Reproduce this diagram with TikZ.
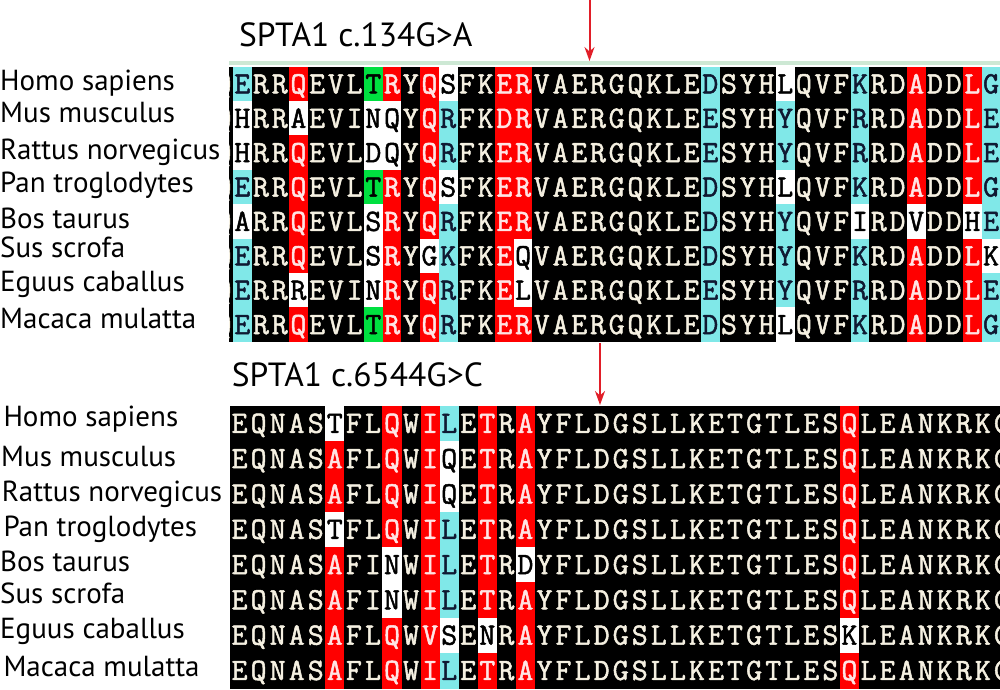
\documentclass[tikz,border=0pt]{standalone}
\usepackage{fontspec}
\setmainfont{PT Sans}
\newfontfamily\seqfont[FakeBold=1.6]{Latin Modern Mono}
\usetikzlibrary{arrows.meta}
\definecolor{alnRed}{RGB}{255,0,0}
\definecolor{alnCyan}{RGB}{128,232,232}
\definecolor{alnGreen}{RGB}{0,224,64}
\definecolor{alnInk}{RGB}{245,240,225}
\definecolor{alnPink}{RGB}{255,228,228}
\definecolor{alnNavy}{RGB}{15,25,50}
\definecolor{alnBar}{RGB}{205,232,212}
\definecolor{mutArrow}{RGB}{225,30,40}
\tikzset{
    cellk/.style={fill=black},
    cellr/.style={fill=alnRed},
    cellc/.style={fill=alnCyan},
    cellg/.style={fill=alnGreen},
    cellw/.style={fill=white},
    res/.style={
        font=\seqfont\fontsize{31}{31}\selectfont,
        inner sep=0pt,
        anchor=base
    },
    resk/.style={text=alnInk},
    resr/.style={text=alnPink},
    resc/.style={text=alnNavy},
    resg/.style={text=black},
    resw/.style={text=black},
    species/.style={
        font=\fontsize{29}{31}\selectfont,
        inner sep=0pt,
        anchor=base west
    },
    title/.style={
        font=\fontsize{33.5}{35}\selectfont,
        inner sep=0pt,
        anchor=base west
    },
    mutation/.style={
        -{Stealth[length=14pt,width=10pt]},
        line width=2pt,
        color=mutArrow
    }
}
% one alignment row: residues and colour codes, read letter by letter
\newcount\alncol
\def\alngobble#1{}
\def\alnfirst#1{#1}
\def\alnrow#1#2{\alncol=0 \alnstep#1\relax#2\relax}
\def\alnstep#1#2\relax#3#4\relax{%
  \alncell{#1}{#3}%
  \advance\alncol by 1
  \ifx\relax#2\relax\expandafter\alngobble\else\expandafter\alnfirst\fi
  {\alnstep#2\relax#4\relax}}
\def\alncell#1#2{%
  \fill[cell#2] ({\alnxo+\the\alncol*\alnw},\alnyt) rectangle ++({\alnw+0.4},{\alnh+0.4});
  \node[res,res#2] (\alnname\the\alncol) at ({\alnxo+(\the\alncol+0.5)*\alnw},{\alnyt+0.5*\alnh+9.5}) {#1};}

\begin{document}
\begin{tikzpicture}[x=1pt,y=-1pt]
  \useasboundingbox (0,0) rectangle (1000,689);

  % Titles
  \node[title] (titleA) at (239,46) {SPTA1 c.134G>A};
  \node[title] (titleB) at (231.7,386.7) {SPTA1 c.6544G>C};

  % Species names
  \foreach \sp/\bl [count=\i] in {Homo sapiens/90, Mus musculus/122.7,
      Rattus norvegicus/159.3, Pan troglodytes/192.7, Bos taurus/228.3,
      Sus scrofa/257.7, Eguus caballus/291, Macaca mulatta/328.3}
    \node[species] (spA\i) at (0,\bl) {\sp};
  \foreach \sx/\sp/\bl [count=\i] in {3.3/Homo sapiens/426.7, 1/Mus musculus/466.7,
      1.7/Rattus norvegicus/501.7, 3.3/Pan troglodytes/536.7, 0/Bos taurus/571.7,
      0/Sus scrofa/603.3, 0/Eguus caballus/638.3, 3.3/Macaca mulatta/676.7}
    \node[species] (spB\i) at (\sx,\bl) {\sp};

  % Upper alignment
  \fill[alnBar] (229,60.5) rectangle (1000,64.5);
  \begin{scope}
    \clip (229,66.7) rectangle (1000,341.7);
    \def\alnxo{214.2}\def\alnw{18.72}\def\alnh{34.38}
    \foreach \sq/\cl [count=\r from 1] in {
        QERRQEVLTRYQSFKERVAERGQKLEDSYHLQVFKRDADDLG/kckkrkkkgrkrwkkrrkkkkkkkkkckkkwkkkckkrkkrc,
        QHRRAEVINQYQRFKDRVAERGQKLEESYHYQVFRRDADDLE/kwkkwkkkwwkrckkrrkkkkkkkkkckkkckkkckkrkkrc,
        QHRRQEVLDQYQRFKERVAERGQKLEESYHYQVFRRDADDLE/kwkkrkkkwwkrckkrrkkkkkkkkkckkkckkkckkrkkrc,
        QERRQEVLTRYQSFKERVAERGQKLEDSYHLQVFKRDADDLG/kckkrkkkgrkrwkkrrkkkkkkkkkckkkwkkkckkrkkrc,
        QARRQEVLSRYQRFKERVAERGQKLEDSYHYQVFIRDVDDHE/kwkkrkkkwrkrckkrrkkkkkkkkkckkkckkkwkkwkkwc,
        QERRQEVLSRYGKFKEQVAERGQKLEDSYHYQVFKRDADDLK/kckkrkkkwrkwckkrwkkkkkkkkkckkkckkkckkrkkrw,
        QERRREVINRYQRFKELVAERGQKLEESYHYQVFRRDADDLE/kckkwkkkwrkrckkrwkkkkkkkkkckkkckkkckkrkkrc,
        QERRQEVLTRYQRFKERVAERGQKLEDSYHLQVFKRDADDLG/kckkrkkkgrkrckkrrkkkkkkkkkckkkwkkkckkrkkrc}{
      \pgfmathsetmacro\alnyt{66.7+(\r-1)*34.38}
      \edef\alnname{rowA\r-}
      \edef\alngo{\noexpand\alnrow{\sq}{\cl}}\alngo
    }
  \end{scope}

  % Lower alignment
  \begin{scope}
    \clip (229,405.7) rectangle (1000,688);
    \def\alnxo{230}\def\alnw{19.06}\def\alnh{35.3}
    \foreach \sq/\cl [count=\r from 1] in {
        EQNASTFLQWILETRAYFLDGSLLKETGTLESQLEANKRKC/kkkkkwkkrkrckrkrkkkkkkkkkkkkkkkkrkkkkkkkk,
        EQNASAFLQWIQETRAYFLDGSLLKETGTLESQLEANKRKC/kkkkkrkkrkrwkrkrkkkkkkkkkkkkkkkkrkkkkkkkk,
        EQNASAFLQWIQETRAYFLDGSLLKETGTLESQLEANKRKC/kkkkkrkkrkrwkrkrkkkkkkkkkkkkkkkkrkkkkkkkk,
        EQNASTFLQWILETRAYFLDGSLLKETGTLESQLEANKRKC/kkkkkwkkrkrckrkrkkkkkkkkkkkkkkkkrkkkkkkkk,
        EQNASAFINWILETRDYFLDGSLLKETGTLESQLEANKRKC/kkkkkrkkwkrckrkwkkkkkkkkkkkkkkkkrkkkkkkkk,
        EQNASAFINWILETRAYFLDGSLLKETGTLESQLEANKRKC/kkkkkrkkwkrckrkrkkkkkkkkkkkkkkkkrkkkkkkkk,
        EQNASAFLQWVSENRAYFLDGSLLKETGTLESKLEANKRKC/kkkkkrkkrkrwkwkrkkkkkkkkkkkkkkkkwkkkkkkkk,
        EQNASAFLQWILETRAYFLDGSLLKETGTLESQLEANKRKC/kkkkkrkkrkrckrkrkkkkkkkkkkkkkkkkrkkkkkkkk}{
      \pgfmathsetmacro\alnyt{405.7+(\r-1)*35.3}
      \edef\alnname{rowB\r-}
      \edef\alngo{\noexpand\alnrow{\sq}{\cl}}\alngo
    }
  \end{scope}

  % Mutation sites
  \coordinate (mutA0) at (589.5,-3);
  \coordinate (mutA1) at (589.5,61);
  \coordinate (mutB0) at (600,343);
  \coordinate (mutB1) at (600,405);
  \draw[mutation] (mutA0) -- (mutA1);
  \draw[mutation] (mutB0) -- (mutB1);
\end{tikzpicture}
\end{document}
